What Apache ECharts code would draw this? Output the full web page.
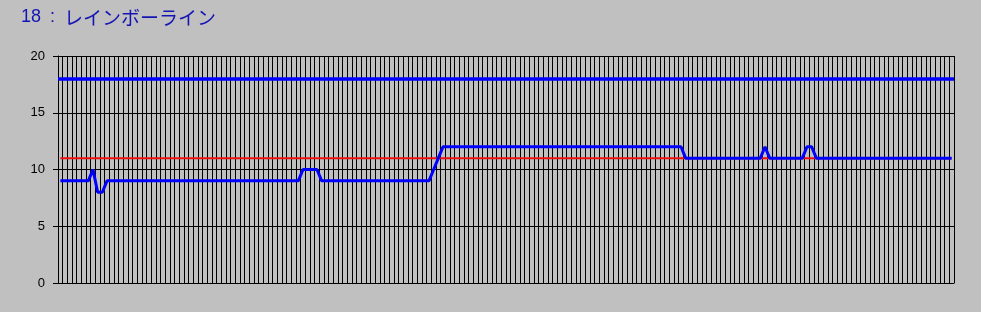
<!DOCTYPE html>
<html>
<head>
<meta charset="utf-8">
<script src="https://cdn.jsdelivr.net/npm/echarts@6/dist/echarts.min.js"></script>
<style>
html,body{margin:0;padding:0;background:#C0C0C0;}
#chart{width:981px;height:312px;}
</style>
</head>
<body>
<div id="chart"></div>
<script>
const TITLE_NUM = '18';
const TITLE_NAME = 'レインボーライン';
const yTicks = [0, 5, 10, 15, 20];
const LIMIT = 18;
const categoryCount = 192;
const categories = Array.from({length: categoryCount}, (_, i) => String(i + 1));

const actual = [
  9,9,9,9,9,9,9,10,8,8,
  9,9,9,9,9,9,9,9,9,9,
  9,9,9,9,9,9,9,9,9,9,
  9,9,9,9,9,9,9,9,9,9,
  9,9,9,9,9,9,9,9,9,9,
  9,9,10,10,10,10,9,9,9,9,
  9,9,9,9,9,9,9,9,9,9,
  9,9,9,9,9,9,9,9,9,9,
  10,11,12,12,12,12,12,12,12,12,
  12,12,12,12,12,12,12,12,12,12,
  12,12,12,12,12,12,12,12,12,12,
  12,12,12,12,12,12,12,12,12,12,
  12,12,12,12,12,12,12,12,12,12,
  12,12,12,12,11,11,11,11,11,11,
  11,11,11,11,11,11,11,11,11,11,
  11,12,11,11,11,11,11,11,11,11,
  12,12,11,11,11,11,11,11,11,11,
  11,11,11,11,11,11,11,11,11,11,
  11,11,11,11,11,11,11,11,11,11,
  11,11
];

const reference = [
  11,11,11,11,11,11,11,11,11,11,
  11,11,11,11,11,11,11,11,11,11,
  11,11,11,11,11,11,11,11,11,11,
  11,11,11,11,11,11,11,11,11,11,
  11,11,11,11,11,11,11,11,11,11,
  11,11,11,11,11,11,11,11,11,11,
  11,11,11,11,11,11,11,11,11,11,
  11,11,11,11,11,11,11,11,11,11,
  11,11,11,11,11,11,11,11,11,11,
  11,11,11,11,11,11,11,11,11,11,
  11,11,11,11,11,11,11,11,11,11,
  11,11,11,11,11,11,11,11,11,11,
  11,11,11,11,11,11,11,11,11,11,
  11,11,11,11,11,11,11,11,11,11,
  11,11,11,11,11,11,11,11,11,11,
  11,11,11,11,11,11,11,11,11,11,
  11,11,11,11,11,11,11,11,11,11,
  11,11,11,11,11,11,11,11,11,11,
  11,11,11,11,11,11,11,11,11,11,
  11,11
];

const titleColor = '#1414B4';
const chart = echarts.init(document.getElementById('chart'), null, {renderer: 'canvas'});
chart.setOption({
  animation: false,
  backgroundColor: '#C0C0C0',
  title: {
    text: '{n|' + TITLE_NUM + '} {s|:} {k|' + TITLE_NAME + '}',
    left: 16,
    top: 3,
    textStyle: {
      color: titleColor,
      fontSize: 18,
      fontWeight: 'normal',
      fontFamily: 'Liberation Sans',
      rich: {
        n: {color: titleColor, fontSize: 18, fontFamily: 'Liberation Sans'},
        s: {color: titleColor, fontSize: 18, fontFamily: 'Liberation Sans', padding: [0, 4, 0, 4]},
        k: {color: titleColor, fontSize: 19, fontFamily: 'Noto Sans CJK JP'}
      }
    }
  },
  grid: {left: 58, right: 27, top: 56, bottom: 29, containLabel: false},
  xAxis: {
    type: 'category',
    data: categories,
    boundaryGap: true,
    axisLine: {show: true, lineStyle: {color: '#000', width: 1}},
    axisTick: {show: false},
    axisLabel: {show: false},
    splitLine: {show: true, interval: 0, lineStyle: {color: '#000', width: 1}}
  },
  yAxis: {
    type: 'value',
    min: yTicks[0],
    max: yTicks[yTicks.length - 1],
    interval: 5,
    axisLine: {show: true, lineStyle: {color: '#000', width: 1}},
    axisTick: {show: true, length: 5, lineStyle: {color: '#000', width: 1}},
    axisLabel: {color: '#000', fontSize: 13, margin: 13, fontFamily: 'Liberation Sans'},
    splitLine: {show: true, lineStyle: {color: '#000', width: 1}}
  },
  series: [
    {
      name: 'reference',
      type: 'line',
      data: reference,
      symbol: 'none',
      lineStyle: {color: '#F01010', width: 2},
      z: 2
    },
    {
      name: 'actual',
      type: 'line',
      data: actual,
      symbol: 'none',
      lineStyle: {color: '#0000FF', width: 3},
      z: 3,
      markLine: {
        silent: true,
        symbol: 'none',
        label: {show: false},
        lineStyle: {color: '#0000FF', width: 3.5, type: 'solid'},
        data: [{yAxis: LIMIT}]
      }
    }
  ]
});
</script>
</body>
</html>
